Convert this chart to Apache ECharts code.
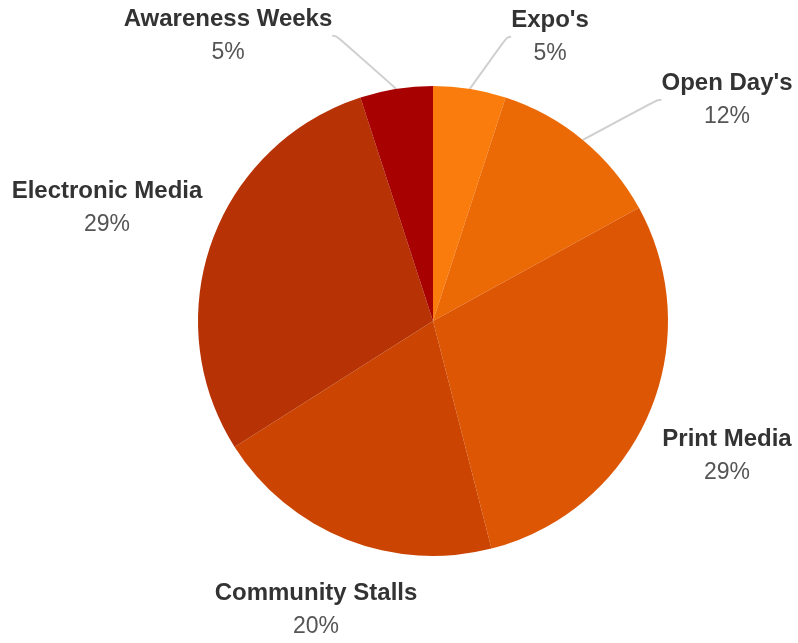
<!DOCTYPE html>
<html>
<head>
<meta charset="utf-8">
<title>Promotion channels</title>
<script src="https://cdn.jsdelivr.net/npm/echarts@6/dist/echarts.min.js"></script>
<style>
    html, body { margin: 0; padding: 0; background: #fff; }
    #chart { width: 798px; height: 643px; }
</style>
</head>
<body>
<div id="chart"></div>
<script>
// 数据
const categories = ["Expo's", "Open Day's", 'Print Media', 'Community Stalls', 'Electronic Media', 'Awareness Weeks'];
const shares = [5, 12, 29, 20, 29, 5];
const sliceColors = ['#f97c0c', '#ec6a06', '#dd5604', '#cb4402', '#b73204', '#a70201'];
// 小扇区才显示引导线
const showGuide = [true, true, false, false, false, true];
// 标签中心位置（像素）
const labelSpots = [[550, 37], [727, 100], [727, 456], [316, 610], [107, 208], [228, 36]];

(function () {
    let myChart = echarts.init(document.getElementById('chart'));

    let data = categories.map(function (name, i) {
        return {
            name: name,
            value: shares[i],
            itemStyle: { color: sliceColors[i] },
            labelLine: { show: showGuide[i] }
        };
    });

    let option = {
        animation: false,
        series: [{
            type: 'pie',
            center: [433, 321],
            radius: 235,
            startAngle: 90,
            clockwise: true,
            avoidLabelOverlap: false,
            itemStyle: { borderWidth: 0 },
            emphasis: { disabled: true },
            label: {
                show: true,
                position: 'outside',
                formatter: '{n|{b}}\n{p|{d}%}',
                rich: {
                    n: {
                        fontFamily: 'Liberation Sans',
                        fontWeight: 'bold',
                        fontSize: 24,
                        color: '#333',
                        lineHeight: 34,
                        align: 'center'
                    },
                    p: {
                        fontFamily: 'Liberation Sans',
                        fontSize: 23,
                        color: '#555',
                        lineHeight: 34,
                        align: 'center'
                    }
                }
            },
            labelLine: {
                length: 20,
                length2: 4,
                smooth: 0.5,
                lineStyle: { color: '#d0d0d0', width: 2 }
            },
            labelLayout: function (params) {
                let spot = labelSpots[params.dataIndex];
                return {
                    x: spot[0],
                    y: spot[1],
                    align: 'center',
                    verticalAlign: 'middle'
                };
            },
            data: data
        }]
    };

    myChart.setOption(option);

    window.addEventListener('resize', function () {
        myChart.resize();
    });
})();
</script>
</body>
</html>
